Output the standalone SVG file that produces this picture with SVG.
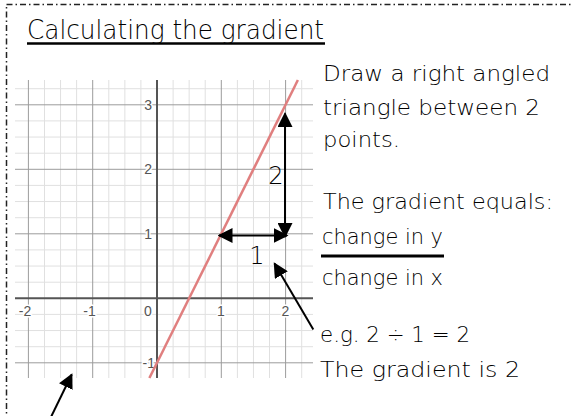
<svg xmlns="http://www.w3.org/2000/svg" width="573" height="416" viewBox="0 0 573 416">
<style>
.hw{font-family:"DejaVu Sans","Liberation Sans",sans-serif;font-weight:200;fill:#000}
.lbl{font-family:"Liberation Sans",Arial,sans-serif;font-size:14px;fill:#555;stroke:#fff;stroke-width:3;paint-order:stroke;stroke-linejoin:round}
.minor{stroke:#e0e0e0;stroke-width:1;fill:none}
.major{stroke:#9c9c9c;stroke-width:1;fill:none}
.axis{stroke:#555;stroke-width:2;fill:none}
.arr{stroke:#000;stroke-width:2;fill:none}
</style>
<defs>
<marker id="ah" viewBox="0 0 10 10" refX="9" refY="5" markerWidth="15" markerHeight="15" markerUnits="userSpaceOnUse" orient="auto-start-reverse">
<path d="M0,0 L10,5 L0,10 z" fill="#000"/>
</marker>
</defs>
<rect x="0" y="0" width="573" height="416" fill="#fff"/>
<rect x="6.5" y="4.5" width="600" height="500" fill="none" stroke="#222" stroke-width="1.5" stroke-dasharray="6 3 1.5 3"/>

<g id="title">
<text class="hw" x="27" y="39" font-size="27" textLength="297" lengthAdjust="spacingAndGlyphs">Calculating the gradient</text>
<line x1="27" y1="43.5" x2="325" y2="43.5" stroke="#000" stroke-width="2.5"/>
</g>

<g id="graph">
<path class="minor" d="M44.5,80V378M60.55,80V378M76.6,80V378M108.8,80V378M124.85,80V378M140.9,80V378M173.1,80V378M189.15,80V378M205.2,80V378M237.4,80V378M253.45,80V378M269.5,80V378M301.7,80V378
M15,346.7H313M15,330.55H313M15,314.4H313M15,282.2H313M15,266.05H313M15,249.9H313M15,217.7H313M15,201.55H313M15,185.4H313M15,153.2H313M15,137.05H313M15,120.9H313M15,88.7H313"/>
<path class="major" d="M28.4,80V378M92.7,80V378M221.3,80V378M285.6,80V378M15,362.8H313M15,233.8H313M15,169.3H313M15,104.8H313"/>
<path class="axis" d="M157,80V378M15,298.3H313"/>
<text class="lbl" x="25" y="316" text-anchor="middle">-2</text>
<text class="lbl" x="89.5" y="316" text-anchor="middle">-1</text>
<text class="lbl" x="148" y="316" text-anchor="middle">0</text>
<text class="lbl" x="221" y="316" text-anchor="middle">1</text>
<text class="lbl" x="285.5" y="316" text-anchor="middle">2</text>
<text class="lbl" x="152" y="109.5" text-anchor="end">3</text>
<text class="lbl" x="152" y="174" text-anchor="end">2</text>
<text class="lbl" x="152" y="238.5" text-anchor="end">1</text>
<text class="lbl" x="155" y="367.5" text-anchor="end">-1</text>
<line x1="149.4" y1="378" x2="297.9" y2="80" stroke="#e07f7f" stroke-width="2.5"/>
</g>

<g id="connectors">
<line class="arr" x1="219" y1="235.5" x2="287" y2="235.5" marker-start="url(#ah)" marker-end="url(#ah)"/>
<line class="arr" x1="285" y1="113.5" x2="285" y2="236.5" marker-start="url(#ah)" marker-end="url(#ah)"/>
<line class="arr" x1="313.3" y1="329.5" x2="274.5" y2="263.5" marker-end="url(#ah)"/>
<line class="arr" x1="51" y1="417" x2="71.7" y2="374.5" marker-end="url(#ah)"/>
</g>

<g id="triangle-labels">
<text class="hw" x="276" y="184" font-size="24" text-anchor="middle">2</text>
<text class="hw" x="257" y="264" font-size="24" text-anchor="middle">1</text>
</g>

<g id="instructions">
<text class="hw" x="323" y="80.5" font-size="21" textLength="227" lengthAdjust="spacingAndGlyphs">Draw a right angled</text>
<text class="hw" x="323" y="115" font-size="21" textLength="217" lengthAdjust="spacingAndGlyphs">triangle between 2</text>
<text class="hw" x="323" y="147" font-size="21" textLength="77" lengthAdjust="spacingAndGlyphs">points.</text>
</g>

<g id="formula">
<text class="hw" x="323" y="208.5" font-size="21" textLength="230" lengthAdjust="spacingAndGlyphs">The gradient equals:</text>
<text class="hw" x="322" y="243.5" font-size="21" textLength="121" lengthAdjust="spacingAndGlyphs">change in y</text>
<line x1="321" y1="256" x2="444" y2="256" stroke="#000" stroke-width="3"/>
<text class="hw" x="322" y="285" font-size="21" textLength="121" lengthAdjust="spacingAndGlyphs">change in x</text>
</g>

<g id="example">
<text class="hw" x="320" y="341.5" font-size="21" textLength="150" lengthAdjust="spacingAndGlyphs">e.g. 2 ÷ 1 = 2</text>
<text class="hw" x="320" y="376.5" font-size="21" textLength="200" lengthAdjust="spacingAndGlyphs">The gradient is 2</text>
</g>
</svg>
